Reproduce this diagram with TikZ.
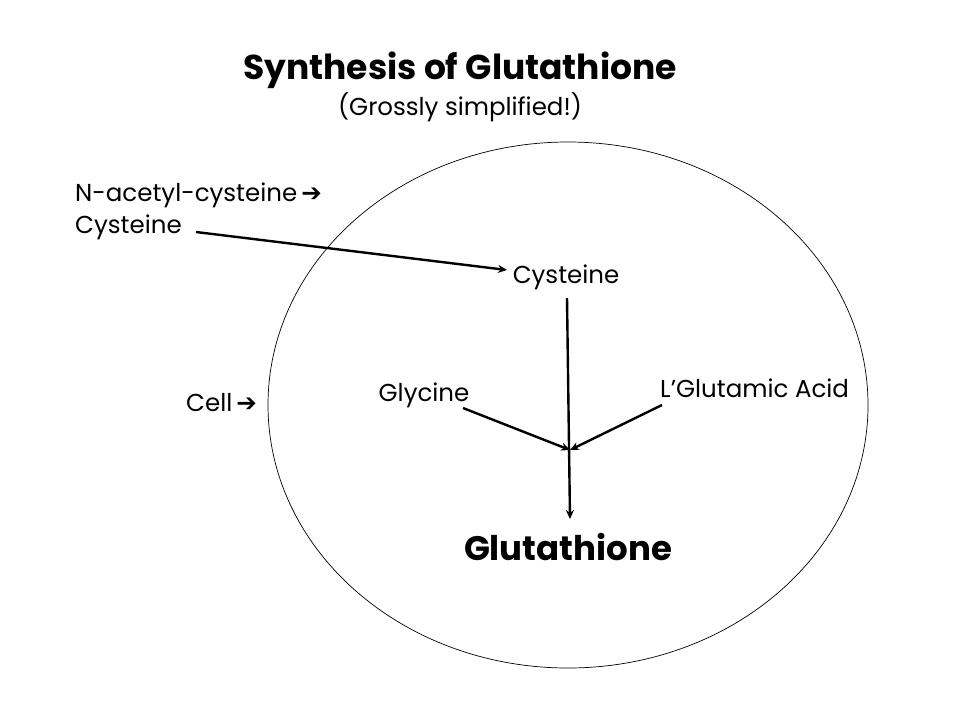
\documentclass[tikz,border=0pt]{standalone}
\usepackage{fontspec}
\setmainfont{Poppins}
\newfontfamily\dejavu{DejaVu Sans}
\usetikzlibrary{arrows.meta}
\begin{document}
\begin{tikzpicture}[x=1pt,y=-1pt,
  lbl/.style={inner sep=0pt,font=\fontsize{24.5}{28}\selectfont},
  conn/.style={line width=2.4pt,-{Stealth[length=9pt,width=8pt]}}]
\useasboundingbox (0,0) rectangle (960,720);
\fill[white] (0,0) rectangle (960,720);
\draw[line width=0.7pt] (568,405) ellipse [x radius=300, y radius=263];
\node[inner sep=0pt,font=\fontsize{34.5}{38}\selectfont\bfseries] (title) at (460,70) {Synthesis of Glutathione};
\node[lbl] (sub) at (460,107) {(Grossly simplified!)};
\node[lbl,anchor=west] (nac) at (75,195) {N-acetyl-cysteine\,{\dejavu\bfseries ➔}};
\node[lbl,anchor=west] (cys1) at (75,227) {Cysteine};
\node[lbl,anchor=west] (cell) at (186,403) {Cell\,{\dejavu\bfseries ➔}};
\node[lbl] (cys2) at (566,277) {Cysteine};
\node[lbl] (gly) at (424,395) {Glycine};
\node[lbl,anchor=west] (glu) at (660,388) {L’Glutamic Acid};
\node[inner sep=0pt,font=\fontsize{34}{38}\selectfont\bfseries] (gsh) at (568,547) {Glutathione};
\coordinate (s1) at (196,232);
\coordinate (e1) at (507,270);
\coordinate (v0) at (567,298);
\coordinate (m) at (570,450);
\coordinate (v1) at (570,519);
\coordinate (g0) at (463,408);
\coordinate (l0) at (662,405);
\draw[conn] (s1) -- (e1);
\draw[conn] (v0) -- (v1);
\draw[conn] (g0) -- (m);
\draw[conn] (l0) -- (m);
\end{tikzpicture}
\end{document}
